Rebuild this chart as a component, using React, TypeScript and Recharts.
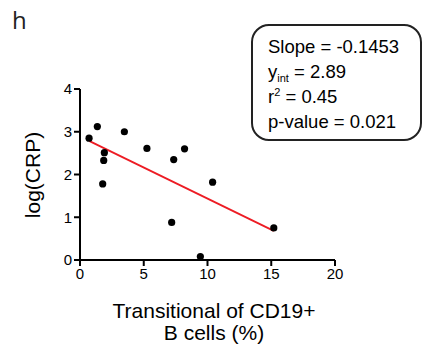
import React from 'react';
import { ScatterChart, Scatter, XAxis, YAxis } from 'recharts';

// percent transitional cells (x) vs log(CRP) (y)
const xValues = [0.71, 1.36, 3.48, 1.91, 1.86, 1.78, 5.25, 7.35, 8.2, 10.4, 7.19, 9.44, 15.2];
const yValues = [2.85, 3.12, 3.0, 2.51, 2.33, 1.78, 2.61, 2.35, 2.6, 1.82, 0.88, 0.08, 0.75];

const xTicks = [0, 5, 10, 15, 20];
const yTicks = [0, 1, 2, 3, 4];

const slope = -0.1453;
const intercept = 2.89;
const fitRange = [0.71, 15.2];

const points = xValues.map((x, i) => ({ x, y: yValues[i] }));
const fitLine = fitRange.map((x) => ({ x, y: intercept + slope * x }));

const FONT = '"Liberation Sans", Arial, sans-serif';

export default function App() {
  const tick = { fill: '#000', fontSize: 15, fontFamily: FONT };

  return (
    <div style={{ position: 'absolute', left: 0, top: 0, width: 424, height: 349, background: '#fff' }}>
      <ScatterChart width={424} height={349} margin={{ top: 89, right: 89, bottom: 59, left: 0 }}>
        <XAxis
          type="number"
          dataKey="x"
          domain={[0, 20]}
          ticks={xTicks}
          tick={tick}
          tickSize={6}
          height={30}
          axisLine={{ stroke: '#000', strokeWidth: 2 }}
          tickLine={{ stroke: '#000', strokeWidth: 2 }}
        />
        <YAxis
          type="number"
          dataKey="y"
          domain={[0, 4]}
          ticks={yTicks}
          tick={tick}
          tickSize={6}
          width={80}
          axisLine={{ stroke: '#000', strokeWidth: 2 }}
          tickLine={{ stroke: '#000', strokeWidth: 2 }}
        />
        <Scatter
          data={fitLine}
          line={{ stroke: '#ed1c24', strokeWidth: 1.8 }}
          shape={() => <g />}
          isAnimationActive={false}
        />
        <Scatter data={points} fill="#000" shape={(p: any) => <circle cx={p.cx} cy={p.cy} r={3.6} fill="#000" />} isAnimationActive={false} />
      </ScatterChart>

      <svg width={424} height={349} style={{ position: 'absolute', left: 0, top: 0, pointerEvents: 'none' }}>
        <text x={12} y={29} fontSize={24} fontFamily='"Open Sans", sans-serif' fill="#222">h</text>

        <rect x={252} y={25} width={169} height={115} rx={17} fill="#fff" stroke="#222" strokeWidth={2} />
        <g fontFamily={FONT} fontSize={18.5} fill="#000">
          <text x={268} y={53}>Slope = -0.1453</text>
          <text x={268} y={78}>
            y<tspan fontSize={11} dy={4}>int</tspan>
            <tspan dy={-4}> = 2.89</tspan>
          </text>
          <text x={268} y={102.5}>
            r<tspan fontSize={11} dy={-7}>2</tspan>
            <tspan dy={7}> = 0.45</tspan>
          </text>
          <text x={268} y={128}>p-value = 0.021</text>
        </g>

        <g fontFamily={FONT} fontSize={21} fill="#000" textAnchor="middle">
          <text x={214} y={318}>Transitional of CD19+</text>
          <text x={214} y={340}>B cells (%)</text>
          <text transform="translate(40,175) rotate(-90)">log(CRP)</text>
        </g>
      </svg>
    </div>
  );
}
